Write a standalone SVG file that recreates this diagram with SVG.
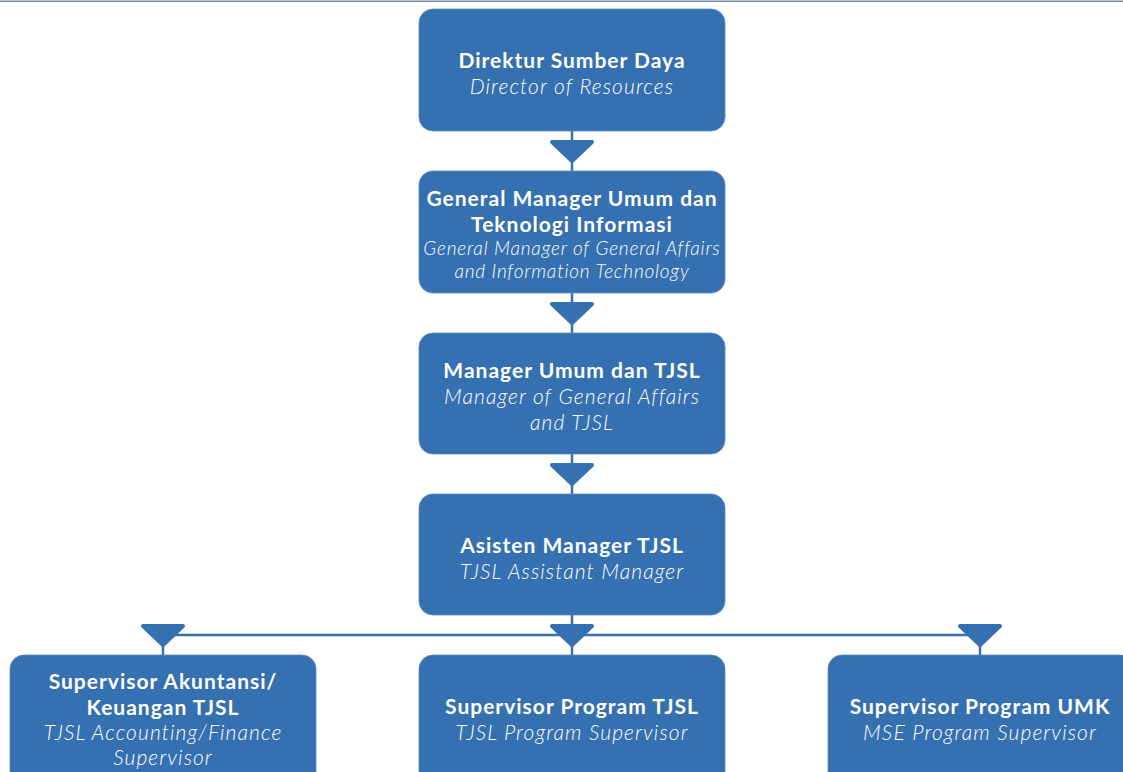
<svg xmlns="http://www.w3.org/2000/svg" width="1123" height="772" viewBox="0 0 1123 772">
<defs>
<style>
.box{fill:#3570b0;stroke:#5a8cc4;stroke-width:0.8}
.b{font-family:Lato,"Noto Sans",sans-serif;font-weight:700;font-size:21px;letter-spacing:1px;fill:#fff;text-anchor:middle}
.i{font-family:Lato,"Noto Sans",sans-serif;font-weight:300;font-style:italic;font-size:21px;letter-spacing:1.1px;fill:#fff;text-anchor:middle}
.s{font-size:19px;letter-spacing:0.8px}
.ln{stroke:#3570b0;stroke-width:2.5;fill:none}
.ah{fill:#3570b0;stroke:#3570b0;stroke-width:4;stroke-linejoin:round}
</style>
<g id="ahd"><path class="ah" d="M-20,2 L20,2 L0,21 Z"/></g>
</defs>
<rect width="1123" height="772" fill="#fff"/>
<line x1="0" y1="1.2" x2="1123" y2="1.2" stroke="#7f86b8" stroke-width="1.5"/>
<g id="connectors">
<line class="ln" x1="572" y1="131" x2="572" y2="171"/>
<line class="ln" x1="572" y1="293" x2="572" y2="333"/>
<line class="ln" x1="572" y1="454" x2="572" y2="494"/>
<line class="ln" x1="572" y1="615" x2="572" y2="655"/>
<line class="ln" x1="163" y1="635" x2="980" y2="635" stroke-width="3"/>
<line class="ln" x1="163" y1="640" x2="163" y2="655"/>
<line class="ln" x1="980" y1="640" x2="980" y2="655"/>
<use href="#ahd" x="572" y="140"/>
<use href="#ahd" x="572" y="302"/>
<use href="#ahd" x="572" y="463"/>
<use href="#ahd" x="163" y="624"/>
<use href="#ahd" x="572" y="624"/>
<use href="#ahd" x="980" y="624"/>
</g>
<g id="n1"><rect class="box" x="419" y="9" width="306" height="122" rx="14"/>
<text class="b" x="572" y="68">Direktur Sumber Daya</text>
<text class="i" x="572" y="94">Director of Resources</text></g>
<g id="n2"><rect class="box" x="419" y="171" width="306" height="122" rx="14"/>
<text class="b" x="572" y="206">General Manager Umum dan</text>
<text class="b" x="572" y="232">Teknologi Informasi</text>
<text class="i s" x="572" y="255">General Manager of General Affairs</text>
<text class="i s" x="572" y="278">and Information Technology</text></g>
<g id="n3"><rect class="box" x="419" y="333" width="306" height="121" rx="14"/>
<text class="b" x="572" y="378">Manager Umum dan TJSL</text>
<text class="i" x="572" y="404">Manager of General Affairs</text>
<text class="i" x="572" y="430">and TJSL</text></g>
<g id="n4"><rect class="box" x="419" y="494" width="306" height="121" rx="14"/>
<text class="b" x="572" y="553">Asisten Manager TJSL</text>
<text class="i" x="572" y="579">TJSL Assistant Manager</text></g>
<g id="n5"><rect class="box" x="10" y="655" width="306" height="135" rx="14"/>
<text class="b" x="163" y="689">Supervisor Akuntansi/</text>
<text class="b" x="163" y="715">Keuangan TJSL</text>
<text class="i" x="163" y="740">TJSL Accounting/Finance</text>
<text class="i" x="163" y="765">Supervisor</text></g>
<g id="n6"><rect class="box" x="419" y="655" width="306" height="135" rx="14"/>
<text class="b" x="572" y="714">Supervisor Program TJSL</text>
<text class="i" x="572" y="740">TJSL Program Supervisor</text></g>
<g id="n7"><rect class="box" x="828" y="655" width="306" height="135" rx="14"/>
<text class="b" x="980" y="714">Supervisor Program UMK</text>
<text class="i" x="980" y="740">MSE Program Supervisor</text></g>
</svg>
